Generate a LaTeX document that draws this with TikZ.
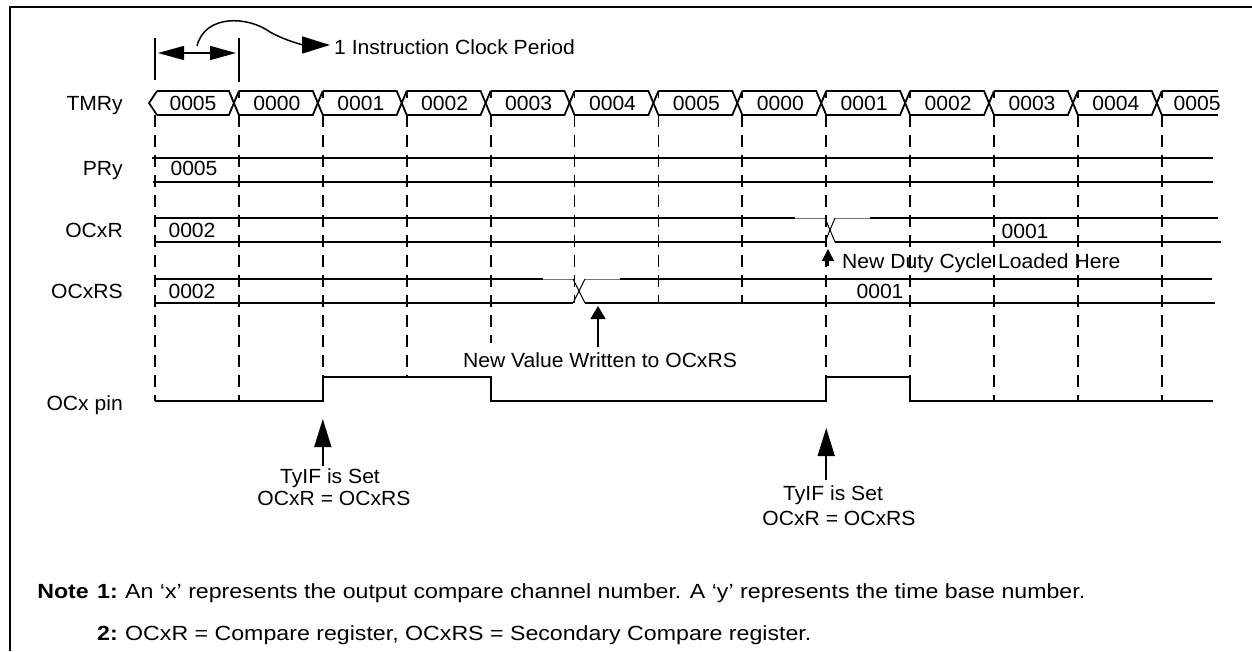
\documentclass[tikz,border=0pt]{standalone}
\usepackage{fontspec}
\setmainfont{Liberation Sans}[FakeStretch=1.03]
\newfontfamily\notefont{Liberation Sans}[FakeStretch=1.13]
\usetikzlibrary{arrows.meta}
\begin{document}
\begin{tikzpicture}[x=1pt,y=-1pt,
  sig/.style={line width=1.8pt},
  faint/.style={line width=1pt, draw=black!55},
  gridline/.style={line width=1.8pt, dash pattern=on 12pt off 8pt},
  frameline/.style={line width=2.5pt},
  txt/.style={font=\fontsize{20.5}{24}\selectfont, inner sep=0pt},
  notetxt/.style={font=\notefont\fontsize{20.5}{24}\selectfont, inner sep=0pt},
  notebold/.style={font=\notefont\fontsize{20.5}{24}\selectfont\bfseries, inner sep=0pt},
  stem/.style={line width=1.5pt},
  bighead/.style={-{Triangle[length=28pt,width=17pt]}},
  midhead/.style={-{Triangle[length=13pt,width=15pt]}},
  smallhead/.style={-{Triangle[length=12pt,width=12pt]}},
  dblhead/.style={{Triangle[length=26pt,width=14pt]}-{Triangle[length=26pt,width=14pt]}}
]
\useasboundingbox (0,0) rectangle (1252,651);

% frame
\draw[frameline] (10,651) -- (10,7) -- (1252,7);

% period marker
\draw[sig] (155,38) -- (155,80);
\draw[sig] (238.9,38) -- (238.9,82);
\coordinate (pm0) at (158,53);
\coordinate (pm1) at (236,53);
\draw[stem, dblhead] (pm0) -- (pm1);
\coordinate (cs) at (197,46);
\coordinate (ce) at (330,45);
\draw[stem, bighead] (cs) .. controls (205,14) and (248,16) .. (270,32) .. controls (288,42) and (305,45) .. (ce);
\node[txt, anchor=base west] (period) at (334,54) {1 Instruction Clock Period};

% row labels
\node[txt, anchor=base east] (lTMR) at (123,110) {TMRy};
\node[txt, anchor=base east] (lPR) at (123,175) {PRy};
\node[txt, anchor=base east] (lOCR) at (123,237) {OCxR};
\node[txt, anchor=base east] (lOCRS) at (123,298) {OCxRS};
\node[txt, anchor=base east] (lpin) at (123,410) {OCx pin};

% TMRy bus
\draw[sig] (157,91) -- (149,103) -- (157,115);
\foreach \v [count=\i from 0] in {0005,0000,0001,0002,0003,0004,0005,0000,0001,0002,0003,0004} {
  \pgfmathsetmacro\xa{155+83.9*\i}
  \pgfmathsetmacro\xb{155+83.9*(\i+1)}
  \pgfmathsetmacro\xs{\i==0 ? 157 : \xa}
  \draw[sig] (\xs,91) -- (\xb-10,91) -- (\xb,115);
  \draw[sig] (\xs,115) -- (\xb-10,115) -- (\xb,91);
  \draw[sig] (\xb,91) -- (\xb,98);
  \node[txt, anchor=base] (tv\i) at (\xa+38,110) {\v};
}
\draw[sig] (1161.8,91) -- (1218,91);
\draw[sig] (1161.8,115) -- (1218,115);
\node[txt, anchor=base] (tv12) at (1197,110) {0005};

% dashed grid lines
\foreach \k/\e in {0/401,1/401,2/377,3/377,4/343,5/303,6/303,7/303,8/377,9/377,10/401,11/401,12/401} {
  \pgfmathsetmacro\xk{155+83.9*\k}
  \draw[gridline] (\xk,115) -- (\xk,\e);
}

% PRy
\draw[sig] (152,158) -- (1213,158);
\draw[sig] (153,182) -- (1213,182);
\node[txt, anchor=base] (pv) at (194,175) {0005};

% OCxR
\draw[sig] (155,218) -- (795,218);
\draw[faint] (795,218) -- (825,218);
\draw[faint] (835,218) -- (870,218);
\draw[sig] (870,218) -- (1218,218);
\draw[sig] (155,242) -- (825,242);
\draw[sig] (835,242) -- (1221,242);
\draw[line width=1pt] (825,218) -- (835,242);
\draw[line width=1pt] (825,242) -- (835,218);
\node[txt, anchor=base] (rv0) at (192,237) {0002};
\node[txt, anchor=base] (rv1) at (1025,238) {0001};

% OCxRS
\draw[sig] (155,279) -- (543,279);
\draw[faint] (543,279) -- (573,279);
\draw[faint] (585,279) -- (620,279);
\draw[sig] (620,279) -- (1212,279);
\draw[sig] (155,303) -- (573,303);
\draw[sig] (585,303) -- (1215,303);
\draw[line width=1pt] (573,279) -- (585,303);
\draw[line width=1pt] (573,303) -- (585,279);
\node[txt, anchor=base] (sv0) at (192,298) {0002};
\node[txt, anchor=base] (sv1) at (880,298) {0001};

% New duty cycle
\coordinate (ndB) at (828,266);
\coordinate (ndT) at (828,249);
\draw[stem, smallhead] (ndB) -- (ndT);
\node[txt, anchor=base west] (nd) at (842,268) {New Duty Cycle Loaded Here};

% New value written
\coordinate (nvB) at (598,347);
\coordinate (nvT) at (598,306);
\draw[stem, midhead] (nvB) -- (nvT);
\node[txt, anchor=base] (nv) at (600,367) {New Value Written to OCxRS};

% OCx pin
\draw[sig] (155,401) -- (322.8,401) -- (322.8,377) -- (490.6,377) -- (490.6,401)
  -- (826.2,401) -- (826.2,377) -- (910.1,377) -- (910.1,401) -- (1213,401);

% TyIF arrows
\coordinate (a1B) at (322.8,466);
\coordinate (a1T) at (322.8,419);
\draw[stem, bighead] (a1B) -- (a1T);
\node[txt, anchor=base] (ty1a) at (330,483) {TyIF is Set};
\node[txt, anchor=base] (ty1b) at (334,505) {OCxR = OCxRS};

\coordinate (a2B) at (826.2,480);
\coordinate (a2T) at (826.2,428);
\draw[stem, bighead] (a2B) -- (a2T);
\node[txt, anchor=base] (ty2a) at (833,500) {TyIF is Set};
\node[txt, anchor=base] (ty2b) at (839,525) {OCxR = OCxRS};

% notes
\node[notebold, anchor=base east] (note) at (89,598) {Note};
\node[notebold, anchor=base west] (n1) at (97,598) {1:};
\node[notetxt, anchor=base west] (n1t) at (125,598) {An ‘x’ represents the output compare channel number. A ‘y’ represents the time base number.};
\node[notebold, anchor=base west] (n2) at (97,640) {2:};
\node[notetxt, anchor=base west] (n2t) at (125,640) {OCxR = Compare register, OCxRS = Secondary Compare register.};
\end{tikzpicture}
\end{document}
